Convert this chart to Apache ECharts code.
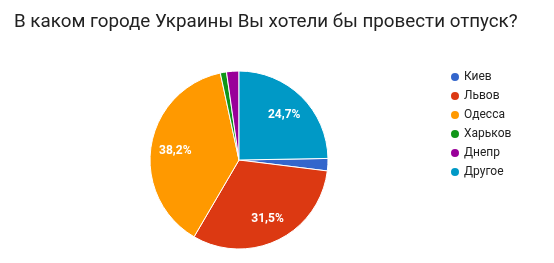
<!DOCTYPE html>
<html><head><meta charset="utf-8">
<script src="https://cdn.jsdelivr.net/npm/echarts@6/dist/echarts.min.js"></script>
<style>html,body{margin:0;padding:0;background:#fff}#c{width:554px;height:263px}</style>
</head><body><div id="c"></div>
<script>
const titleText = 'В каком городе Украины Вы хотели бы провести отпуск?';
const categories = ['Киев', 'Львов', 'Одесса', 'Харьков', 'Днепр', 'Другое'];
const values = [2, 28, 34, 1, 2, 22];
const colors = ['#3366cc', '#dc3912', '#ff9900', '#109618', '#990099', '#0099c6'];

const total = values.reduce((a, b) => a + b, 0);
// last slice (Другое) ends at 12 o'clock
const startAngle = 90 - 360 * values[values.length - 1] / total;
const data = categories.map((n, i) => ({ name: n, value: values[i] }));
const fmt = p => {
  const pct = p.value / total * 100;
  return pct < 5 ? '' : pct.toFixed(1).replace('.', ',') + '%';
};
const chart = echarts.init(document.getElementById('c'), null, { renderer: 'canvas' });
chart.setOption({
  animation: false,
  color: colors,
  title: {
    text: titleText, left: 9, top: 8,
    textStyle: { fontFamily: 'Roboto', fontSize: 18.8, fontWeight: 'normal', color: '#222' }
  },
  legend: {
    orient: 'vertical', left: 449, top: 71, icon: 'circle',
    itemWidth: 10, itemHeight: 10, itemGap: 7, padding: 0,
    textStyle: { fontFamily: 'Roboto', fontSize: 12, color: '#222', padding: [0, 0, 0, -1] },
    data: categories
  },
  series: [
    {
      type: 'pie', center: [239, 160], radius: [0, 89],
      startAngle: startAngle, clockwise: true,
      data: data,
      itemStyle: { borderColor: '#fff', borderWidth: 1 },
      label: { show: false }, labelLine: { show: false }, silent: true
    },
    {
      type: 'pie', center: [239, 161], radius: [34, 89],
      startAngle: startAngle, clockwise: true,
      data: data,
      itemStyle: { color: 'rgba(0,0,0,0)', borderWidth: 0 },
      label: { show: true, position: 'inner', formatter: fmt, color: '#fff',
               fontFamily: 'Roboto', fontSize: 12, fontWeight: 'bold' },
      labelLine: { show: false }, silent: true
    }
  ]
});
</script></body></html>
